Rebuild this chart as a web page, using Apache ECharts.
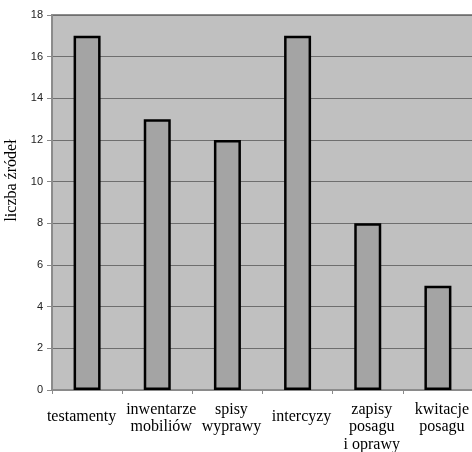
<!DOCTYPE html>
<html>
<head>
<meta charset="utf-8">
<script src="https://cdn.jsdelivr.net/npm/echarts@6/dist/echarts.min.js"></script>
<style>
  html, body { margin: 0; padding: 0; background: #ffffff; }
  #chart { width: 472px; height: 452px; }
</style>
</head>
<body>
<div id="chart"></div>
<script>
// Rodzaje źródeł i liczba zachowanych dokumentów
const categories = ['testamenty', 'inwentarze\nmobiliów', 'spisy\nwyprawy', 'intercyzy', 'zapisy\nposagu\ni oprawy', 'kwitacje\nposagu'];
const counts = [17, 13, 12, 17, 8, 5];
const yTicks = { min: 0, max: 18, interval: 2 };
const yTitle = 'liczba źródeł';

const chart = echarts.init(document.getElementById('chart'), null, { renderer: 'canvas' });

// single-line labels sit a little lower than the wrapped ones;
// the first one is nudged left, the rest slightly right
const axisData = categories.map((c, i) => {
  const top = c.indexOf('\n') < 0 ? 7 : 0;
  const pad = i === 0 ? [top, 11, 0, 0] : [top, 0, 0, 8];
  return { value: c, textStyle: { padding: pad } };
});

chart.setOption({
  animation: false,
  grid: {
    left: 52, right: -1, top: 15, bottom: 62,
    containLabel: false,
    outerBoundsMode: 'none',
    show: true, backgroundColor: '#c0c0c0',
    borderColor: '#8c8c8c', borderWidth: 2
  },
  xAxis: {
    type: 'category',
    data: axisData,
    axisLine: { show: true, lineStyle: { color: '#8a8a8a', width: 1 } },
    axisTick: { show: true, length: 4, lineStyle: { color: '#8a8a8a' } },
    axisLabel: {
      interval: 0,
      hideOverlap: false,
      margin: 11,
      color: '#000',
      fontFamily: '"Liberation Serif", "Times New Roman", serif',
      fontSize: 16,
      lineHeight: 17.5,
      verticalAlign: 'top'
    }
  },
  yAxis: {
    type: 'value',
    min: yTicks.min, max: yTicks.max, interval: yTicks.interval,
    name: yTitle,
    nameLocation: 'middle',
    nameGap: 23,
    nameTextStyle: {
      color: '#000',
      fontFamily: '"Liberation Serif", "Times New Roman", serif',
      fontSize: 16,
      padding: [8, 0, 0, 44]
    },
    axisLine: { show: true, lineStyle: { color: '#8a8a8a', width: 1 } },
    axisTick: { show: true, length: 5, lineStyle: { color: '#8a8a8a' } },
    axisLabel: {
      margin: 9,
      color: '#222',
      fontFamily: '"Liberation Sans", Arial, sans-serif',
      fontSize: 11
    },
    splitLine: {
      show: true,
      lineStyle: { color: '#6e6e6e', width: 1 }
    }
  },
  series: [{
    type: 'bar',
    data: counts,
    barWidth: 27,
    itemStyle: {
      color: '#a4a4a4',
      borderColor: '#000',
      borderWidth: 2.5
    }
  }]
});
</script>
</body>
</html>
